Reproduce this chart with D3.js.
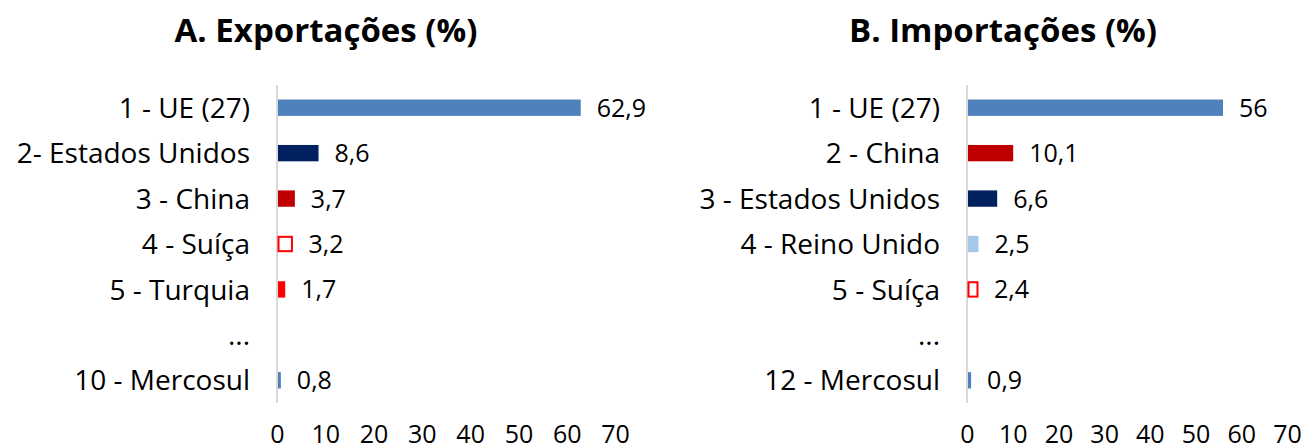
<!DOCTYPE html>
<html><head><meta charset="utf-8">
<script src="https://cdn.jsdelivr.net/npm/d3@7"></script>
<style>body{margin:0;background:#fff}svg{display:block}text{font-family:"Open Sans",sans-serif;fill:#000}</style>
</head><body><svg id="c" width="1315" height="446"></svg>
<script>
const categoriesA = ["1 - UE (27)","2- Estados Unidos","3 - China","4 - Suíça","5 - Turquia","...","10 - Mercosul"];
const valuesA = [62.9, 8.6, 3.7, 3.2, 1.7, null, 0.8];
const labelsA = ["62,9","8,6","3,7","3,2","1,7","","0,8"];
const categoriesB = ["1 - UE (27)","2 - China","3 - Estados Unidos","4 - Reino Unido","5 - Suíça","...","12 - Mercosul"];
const valuesB = [56, 10.1, 6.6, 2.5, 2.4, null, 0.9];
const labelsB = ["56","10,1","6,6","2,5","2,4","","0,9"];
const tickValues = [0,10,20,30,40,50,60,70];
const titles = ["A. Exportações (%)","B. Importações (%)"];

const style = {
  "UE": {fill:"#4F81BD", stroke:"none"},
  "Estados Unidos": {fill:"#002060", stroke:"none"},
  "China": {fill:"#C00000", stroke:"none"},
  "Suíça": {fill:"#FFFFFF", stroke:"#FF0000"},
  "Turquia": {fill:"#FF0000", stroke:"none"},
  "Reino Unido": {fill:"#A5C8EA", stroke:"none"},
  "Mercosul": {fill:"#4F81BD", stroke:"none"},
};
function styleOf(cat){ for (const k in style) if (cat.includes(k)) return style[k]; return {fill:"none",stroke:"none"}; }

const svg = d3.select("#c");

function panel(cfg){
  const {cats, vals, labs, title, x0, x1, titleX} = cfg;
  const g = svg.append("g");
  const x = d3.scaleLinear().domain([0,70]).range([x0,x1]);
  const y = d3.scaleBand().domain(cats).range([85,403]).paddingInner(0.64).paddingOuter(0.32);
  g.append("text").attr("x",titleX).attr("y",42).attr("text-anchor","middle")
    .style("font-size","33px").style("font-weight","700").text(title);
  g.append("line").attr("x1",x(0)).attr("x2",x(0)).attr("y1",85).attr("y2",403)
    .attr("stroke","#D9D9D9").attr("stroke-width",2);
  const rows = cats.map((c,i)=>({c, v:vals[i], l:labs[i]}));
  g.selectAll("rect.bar").data(rows.filter(d=>d.v!=null)).join("rect").attr("class","bar")
    .each(function(d){
      const s = styleOf(d.c);
      const r = d3.select(this);
      if (s.stroke!=="none") {
        r.attr("x",x(0)+1.5).attr("y",y(d.c)+1).attr("width",x(d.v)-x(0)-2).attr("height",y.bandwidth()-2)
         .attr("fill",s.fill).attr("stroke",s.stroke).attr("stroke-width",2);
      } else {
        r.attr("x",x(0)+1).attr("y",y(d.c)).attr("width",x(d.v)-x(0)-1).attr("height",y.bandwidth()).attr("fill",s.fill);
      }
    });
  g.selectAll("text.val").data(rows.filter(d=>d.v!=null)).join("text").attr("class","val")
    .attr("x",d=>x(d.v)+16).attr("y",d=>y(d.c)+y.bandwidth()/2).attr("dy","0.36em")
    .style("font-size","25px").text(d=>d.l);
  g.selectAll("text.cat").data(rows).join("text").attr("class","cat")
    .attr("x",x(0)-27).attr("y",d=>y(d.c)+y.bandwidth()/2).attr("dy","0.36em").attr("text-anchor","end")
    .style("font-size","28px").text(d=>d.c);
  const ax = g.append("g").attr("transform","translate(0,443)")
    .call(d3.axisBottom(x).tickValues(tickValues).tickSize(0).tickPadding(0));
  ax.select(".domain").remove();
  ax.selectAll("text").attr("dy","0").attr("y",0).style("font-size","25px").style("font-family","'Open Sans',sans-serif").attr("fill","#000");
}
panel({cats:categoriesA, vals:valuesA, labs:labelsA, title:titles[0], x0:277, x1:615, titleX:326});
panel({cats:categoriesB, vals:valuesB, labs:labelsB, title:titles[1], x0:967, x1:1287, titleX:1003});
</script></body></html>
